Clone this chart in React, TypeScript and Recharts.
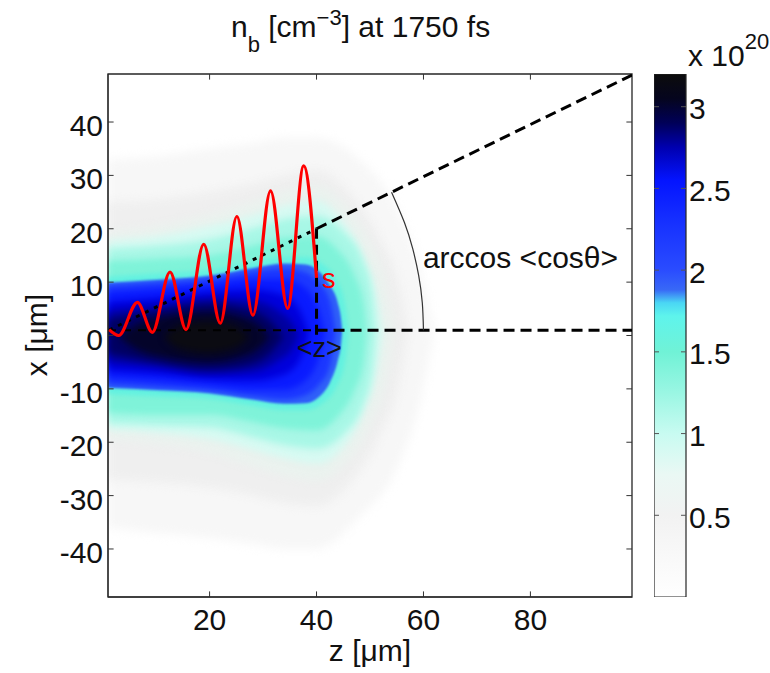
import React from 'react'
import {
  Area,
  Bar,
  BarChart,
  ComposedChart,
  Line,
  ReferenceArea,
  ReferenceLine,
  Scatter,
  XAxis,
  YAxis,
} from 'recharts'

const FONT = '"Liberation Sans", Arial, Helvetica, sans-serif'

// axes
const zDomain = [1, 99]
const xDomain = [-49, 49]
const zTicks = [20, 40, 60, 80]
const xTicks = [-40, -30, -20, -10, 0, 10, 20, 30, 40]
const cbTicks = [0.5, 1, 1.5, 2, 2.5, 3]
const cbMax = 3.2

// n_b iso-contours (x 1e20 cm^-3): rows are [z, upper x, lower x] in um
const levels = [0.15, 0.4, 0.65, 0.9, 1.15, 1.4, 1.65, 1.85, 2.1, 2.4, 2.6, 2.75, 2.88, 3.0, 3.12]
const bandA = [[1, 33, -36], [10, 33.5, -37], [20, 35, -38], [28, 36, -39], [34, 37, -40], [40, 37, -40], [48, 33, -34], [55, 24, -25], [59.5, 12, -12], [62, 0.6, 0.6]]
const bandB = [[1, 25, -27], [10, 25.5, -27.5], [20, 27, -28.5], [28, 28.5, -30], [34, 30, -31.5], [40, 31, -32], [46, 27, -28], [52, 18, -18.5], [55.5, 9.5, -9], [57.2, 0.6, 0.6]]
const bandC = [[1, 19.5, -19.5], [10, 20.5, -20.3], [20, 22.8, -22], [28, 25, -24.5], [34, 27, -26.3], [40, 28, -27.2], [45, 24.8, -24.3], [50, 17.5, -17], [53, 9.5, -8.5], [54.6, 0.6, 0.6]]
const bandD = [[1, 17.8, -17.6], [10, 18.6, -18.2], [20, 20.5, -19.4], [28, 22.5, -21.4], [34, 24.3, -23], [40, 25.3, -24], [44, 22.5, -22], [48.7, 15, -14.5], [51.3, 7.3, -6.4], [52.4, 0.6, 0.6]]
const bandE = [[1, 16.3, -16.5], [10, 16.8, -16.8], [20, 18, -17.2], [28, 20, -19], [34, 21.8, -20.5], [40, 22.4, -21.2], [45, 19.5, -18.5], [48.7, 14, -13], [50.4, 8, -7], [51.1, 0.6, 0.6]]
const bandF = [[1, 14, -14.5], [10, 14.4, -14.8], [20, 15, -14.8], [28, 16.8, -16.2], [34, 18.3, -17.4], [40, 18.6, -17.8], [44, 16, -15.2], [47, 11.5, -10.5], [48.8, 6, -5], [49.4, 0.6, 0.6]]
const bandG = [[1, 11, -11], [10, 11.6, -11.4], [20, 12.3, -11.9], [28, 13.7, -13.1], [34, 14.7, -14], [38, 14.7, -14], [41, 13.5, -12.8], [43.5, 10.8, -10], [45.3, 6, -5], [46, 0.6, 0.6]]
const bandH = [[1, 9.9, -9.8], [10, 10.4, -10.2], [20, 11.2, -10.8], [28, 12.6, -12], [34, 13.5, -12.8], [38, 13.3, -12.7], [40.5, 12, -11.5], [42.5, 9.4, -8.8], [44, 6, -4.6], [44.6, 3, -1.5], [44.8, 0.8, 0.8]]
const bandI = [[1, 9.3, -9.2], [10, 9.9, -9.7], [20, 10.6, -10.3], [28, 11.9, -11.4], [34, 12.6, -12], [38, 11.8, -11.2], [40.5, 9.8, -9.2], [42.5, 6.5, -5.8], [43.6, 0.6, 0.6]]
const bandJ = [[1, 8.2, -8], [10, 8.8, -8.6], [20, 9.6, -9.4], [28, 10.6, -10.2], [34, 10.6, -10.2], [38, 8.8, -8.4], [40.5, 4.5, -4], [41.6, 0.4, 0.4]]
const bandK = [[1, 6.3, -6.6], [10, 7, -7.2], [20, 8.2, -8.2], [28, 8.6, -8.5], [34, 7.5, -7.3], [37, 4.5, -4.3], [38.6, 0.3, 0.3]]
const bandL = [[1, 4.6, -5], [10, 5.6, -5.9], [20, 7, -7.2], [28, 6.6, -6.8], [33, 4.5, -4.6], [35.5, 2.2, -2.4], [36.6, 0, 0]]
const bandM = [[1, 3, -3.4], [10, 4.6, -5], [20, 5.9, -6.3], [27, 5, -5.6], [31.5, 2.6, -3.2], [33.8, -0.3, -0.3]]
const bandN = [[3, -0.3, -0.3], [6, 1.8, -2.4], [12, 3.6, -4.2], [20, 4.4, -5], [26, 3.4, -4], [29.5, 1.6, -2.2], [31.2, -0.3, -0.3]]
const bandO = [[11.5, -0.3, -0.3], [14, 1.8, -2.4], [19.5, 2.7, -3.3], [24.5, 1.9, -2.5], [27.5, -0.3, -0.3]]
const bands = [bandA, bandB, bandC, bandD, bandE, bandF, bandG, bandH, bandI, bandJ, bandK, bandL, bandM, bandN, bandO]

// red trajectory of the bunch
const waveZ = [1.2, 3, 6.5, 9.3, 12.6, 15.6, 18.9, 22, 25.1, 28.1, 31.4, 34.6, 37.6, 40]
const waveX = [1.1, 0, 6.2, 0.6, 11.9, 1.1, 17.1, 2.3, 22.3, 3.8, 27.1, 5.1, 31.8, 10.8]

// construction lines
const tiltZ = [1.2, 40]
const tiltX = [1, 20]
const rayZ = [40, 99]
const rayX = [20, 48.8]
const dropZ = [40, 40]
const dropX = [20, 0]
const axisInZ = [1, 40]
const axisOutZ = [40, 99]
const axisX = [1, 1]
const arcZ = [60, 59.78, 59.1, 57.99, 56.44, 54.03]
const arcX = [1, 6.14, 11.25, 16.27, 21.18, 26.86]

// annotations
const noteText = ['s', '<z>', 'arccos <cosθ>']
const noteZ = [41, 40.5, 59.9]
const noteX = [8.9, -4.1, 12.6]

// colours
const bandColors = ['#f7f7f7', '#efefef', '#eaf2ee', '#d6faf2', '#a8f7e6', '#7ff3d9', '#63f1e0', '#3060f8', '#1c38ff', '#0a1bff', '#0000dc', '#0000a0', '#000062', '#04042a', '#0b0b12']
const bandBlur = [5, 4, 4, 3.5, 3.5, 3, 2, 1.2, 2.5, 3, 3.5, 3.5, 3.5, 3.5, 3.5]
const cbStops: [number, string][] = [
  [0, '#ffffff'], [0.5, '#f2f2f2'], [0.75, '#eaf8f4'], [1, '#c8fbf1'], [1.25, '#9af6e3'],
  [1.5, '#70f2d6'], [1.72, '#5ef4ec'], [1.8, '#4ad6f4'], [1.88, '#3868f6'], [2, '#2a4cff'],
  [2.3, '#1630ff'], [2.55, '#0414ff'], [2.75, '#0000b0'], [2.9, '#000058'], [3.05, '#05051e'], [3.2, '#0c0c0c'],
]
const noteStyle = [
  { fill: '#ff0000', anchor: 'start', size: 27 },
  { fill: '#111', anchor: 'middle', size: 27 },
  { fill: '#111', anchor: 'start', size: 30 },
]

const pts = (zs: number[], xs: number[]) => zs.map((z, i) => ({ z, x: xs[i] }))
const notes = noteText.map((label, i) => ({ z: noteZ[i], x: noteX[i], i, label }))
const blurCss = bandBlur.map((b, i) => `.dens${i} path{filter:blur(${b}px)}`).join('\n')

const ZTick = (p: any) => (
  <text x={p.x} y={p.y + 33} textAnchor="middle" fontSize={30} fontFamily={FONT} fill="#111">
    {p.payload.value}
  </text>
)
const XTick = (p: any) => (
  <text x={p.x - 5} y={p.y + 14} textAnchor="end" fontSize={30} fontFamily={FONT} fill="#111">
    {p.payload.value}
  </text>
)
const CbTick = (p: any) => (
  <g>
    <line x1={p.x - 32} x2={p.x - 27} y1={p.y} y2={p.y} stroke="#555" />
    <line x1={p.x - 5} x2={p.x} y1={p.y} y2={p.y} stroke="#555" />
    <text x={p.x + 3} y={p.y + 12.5} fontSize={30} fontFamily={FONT} fill="#111">
      {p.payload.value}
    </text>
  </g>
)
const Note = (p: any) => {
  const s = noteStyle[p.payload.i]
  return (
    <text x={p.cx} y={p.cy} textAnchor={s.anchor} fontSize={s.size} fontFamily={FONT} fill={s.fill}>
      {p.payload.label}
    </text>
  )
}

const tickLen = 1.05

export default function App() {
  return (
    <div style={{ position: 'absolute', left: 0, top: 0, width: 770, height: 673, background: '#fff' }}>
      <style>{blurCss}</style>
      <svg width={0} height={0} style={{ position: 'absolute' }}>
        <defs>
          <linearGradient id="cbGrad" x1="0" y1="1" x2="0" y2="0">
            {cbStops.map(([v, c]) => (
              <stop key={v} offset={v / cbMax} stopColor={c} />
            ))}
          </linearGradient>
        </defs>
      </svg>
      <div style={{ position: 'absolute', left: 0, top: 0 }}>
        <ComposedChart width={770} height={673} margin={{ top: 74, right: 138, bottom: 0, left: 0 }}>
          <XAxis
            type="number"
            dataKey="z"
            domain={zDomain}
            ticks={zTicks}
            interval={0}
            allowDataOverflow
            height={76}
            tickLine={false}
            tickSize={0}
            tickMargin={0}
            tick={ZTick}
            axisLine={{ stroke: '#262626' }}
          />
          <YAxis
            type="number"
            domain={xDomain}
            ticks={xTicks}
            interval={0}
            allowDataOverflow
            width={108}
            tickLine={false}
            tickSize={0}
            tickMargin={0}
            tick={XTick}
            axisLine={{ stroke: '#262626' }}
          />
          {bands.map((band, i) => (
            <Area
              key={'band' + i}
              className={'dens' + i}
              name={'n_b > ' + levels[i]}
              data={band.map(([z, top, bottom]) => ({ z, top, bottom }))}
              dataKey={(d: any) => [d.bottom, d.top]}
              type="monotone"
              stroke="none"
              fill={bandColors[i]}
              fillOpacity={1}
              dot={false}
              activeDot={false}
              isAnimationActive={false}
            />
          ))}
          <Line data={pts(axisInZ, axisX)} dataKey="x" type="linear" stroke="#000" strokeWidth={2} strokeDasharray="8 7" dot={false} activeDot={false} isAnimationActive={false} />
          <Line data={pts(axisOutZ, axisX)} dataKey="x" type="linear" stroke="#000" strokeWidth={3} strokeDasharray="11 6" dot={false} activeDot={false} isAnimationActive={false} />
          <Line data={pts(tiltZ, tiltX)} dataKey="x" type="linear" stroke="#000" strokeWidth={3} strokeDasharray="4 6" dot={false} activeDot={false} isAnimationActive={false} />
          <Line data={pts(rayZ, rayX)} dataKey="x" type="linear" stroke="#000" strokeWidth={3} strokeDasharray="11 6" dot={false} activeDot={false} isAnimationActive={false} />
          <Line data={pts(dropZ, dropX)} dataKey="x" type="linear" stroke="#000" strokeWidth={3} strokeDasharray="10 6" dot={false} activeDot={false} isAnimationActive={false} />
          <Line data={pts(arcZ, arcX)} dataKey="x" type="natural" stroke="#333" strokeWidth={1.2} dot={false} activeDot={false} isAnimationActive={false} />
          <Line data={pts(waveZ, waveX)} dataKey="x" type="monotone" stroke="#ff0000" strokeWidth={3.2} dot={false} activeDot={false} isAnimationActive={false} />
          <Scatter data={notes} dataKey="x" shape={Note} isAnimationActive={false} />
          {zTicks.map((t) => (
            <ReferenceLine key={'bt' + t} segment={[{ x: t, y: xDomain[0] }, { x: t, y: xDomain[0] + tickLen }]} stroke="#333" ifOverflow="visible" />
          ))}
          {zTicks.map((t) => (
            <ReferenceLine key={'tt' + t} segment={[{ x: t, y: xDomain[1] }, { x: t, y: xDomain[1] - tickLen }]} stroke="#333" ifOverflow="visible" />
          ))}
          {xTicks.map((t) => (
            <ReferenceLine key={'lt' + t} segment={[{ x: zDomain[0], y: t }, { x: zDomain[0] + tickLen, y: t }]} stroke="#333" ifOverflow="visible" />
          ))}
          {xTicks.map((t) => (
            <ReferenceLine key={'rt' + t} segment={[{ x: zDomain[1], y: t }, { x: zDomain[1] - tickLen, y: t }]} stroke="#333" ifOverflow="visible" />
          ))}
          <ReferenceArea x1={zDomain[0]} x2={zDomain[1]} y1={xDomain[0]} y2={xDomain[1]} fill="none" stroke="#262626" strokeWidth={1.3} ifOverflow="visible" />
        </ComposedChart>
      </div>
      <div style={{ position: 'absolute', left: 654, top: 0 }}>
        <BarChart width={116} height={673} data={[{ name: 'n_b', top: cbMax }]} margin={{ top: 74, right: 0, bottom: 76, left: 0 }} barCategoryGap={0}>
          <XAxis dataKey="name" hide />
          <YAxis
            orientation="right"
            type="number"
            domain={[0, cbMax]}
            ticks={cbTicks}
            interval={0}
            allowDataOverflow
            width={84}
            axisLine={false}
            tickLine={false}
            tickSize={0}
            tickMargin={0}
            tick={CbTick}
          />
          <Bar dataKey="top" fill="url(#cbGrad)" stroke="#262626" strokeWidth={1.2} isAnimationActive={false} />
        </BarChart>
      </div>
      <svg width={770} height={673} style={{ position: 'absolute', left: 0, top: 0, pointerEvents: 'none' }} fontFamily={FONT} fill="#111">
        <text x={231} y={37} fontSize={30}>
          n<tspan fontSize={22} dy={15}>b</tspan>
          <tspan dy={-15}> [cm</tspan>
          <tspan fontSize={22} dy={-12}>−3</tspan>
          <tspan dy={12}>] at 1750 fs</tspan>
        </text>
        <text x={370} y={661} fontSize={30} textAnchor="middle">z [μm]</text>
        <text x={47} y={335} fontSize={30} textAnchor="middle" transform="rotate(-90 47 335)">x [μm]</text>
        <text x={688} y={66} fontSize={30}>
          x 10<tspan fontSize={22} dy={-17}>20</tspan>
        </text>
      </svg>
    </div>
  )
}
